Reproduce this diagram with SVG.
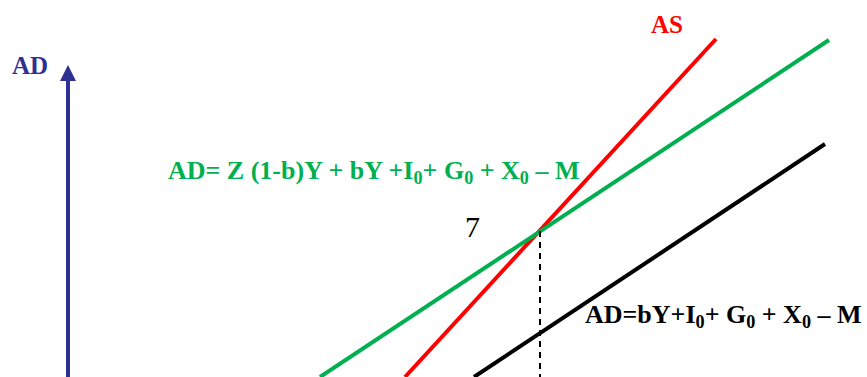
<svg xmlns="http://www.w3.org/2000/svg" width="867" height="377" viewBox="0 0 867 377">
<style>
.t{font-family:"Liberation Serif","Times New Roman",Times,serif;font-weight:bold}
.s{font-size:70%}
.ln{fill:none;stroke-width:4}
</style>
<rect width="867" height="377" fill="#fff"/>
<g id="connectors">
<line class="ln" x1="716" y1="39" x2="405" y2="377" stroke="#FF0000"/>
<line class="ln" x1="829" y1="40" x2="320" y2="377" stroke="#00B050"/>
<line class="ln" x1="825" y1="144" x2="474" y2="377" stroke="#000"/>
<line x1="540" y1="231" x2="540" y2="377" stroke="#000" stroke-width="2" stroke-dasharray="6,5"/>
</g>
<g id="axis">
<line x1="68" y1="80" x2="68" y2="377" stroke="#2E3192" stroke-width="4"/>
<polygon points="68,65 76,81 60,81" fill="#2E3192"/>
<text class="t" x="12" y="74" font-size="25" fill="#2E3192">AD</text>
</g>
<g id="as-label"><text class="t" x="651" y="33" font-size="25" fill="#FF0000">AS</text></g>
<g id="ad1-label"><text class="t" x="168" y="179" font-size="26" fill="#00B050">AD= Z (1-b)Y + bY +I<tspan class="s" dy="5">0</tspan><tspan dy="-5">+ G</tspan><tspan class="s" dy="5">0</tspan><tspan dy="-5"> + X</tspan><tspan class="s" dy="5">0</tspan><tspan dy="-5"> – M</tspan></text></g>
<g id="eq-label"><text x="465" y="237" font-family="Liberation Serif,Times New Roman,serif" font-size="30" fill="#000">7</text></g>
<g id="ad2-label"><text class="t" x="585" y="323" font-size="26" fill="#000">AD=bY+I<tspan class="s" dy="5">0</tspan><tspan dy="-5">+ G</tspan><tspan class="s" dy="5">0</tspan><tspan dy="-5"> + X</tspan><tspan class="s" dy="5">0</tspan><tspan dy="-5"> – M</tspan></text></g>
</svg>
